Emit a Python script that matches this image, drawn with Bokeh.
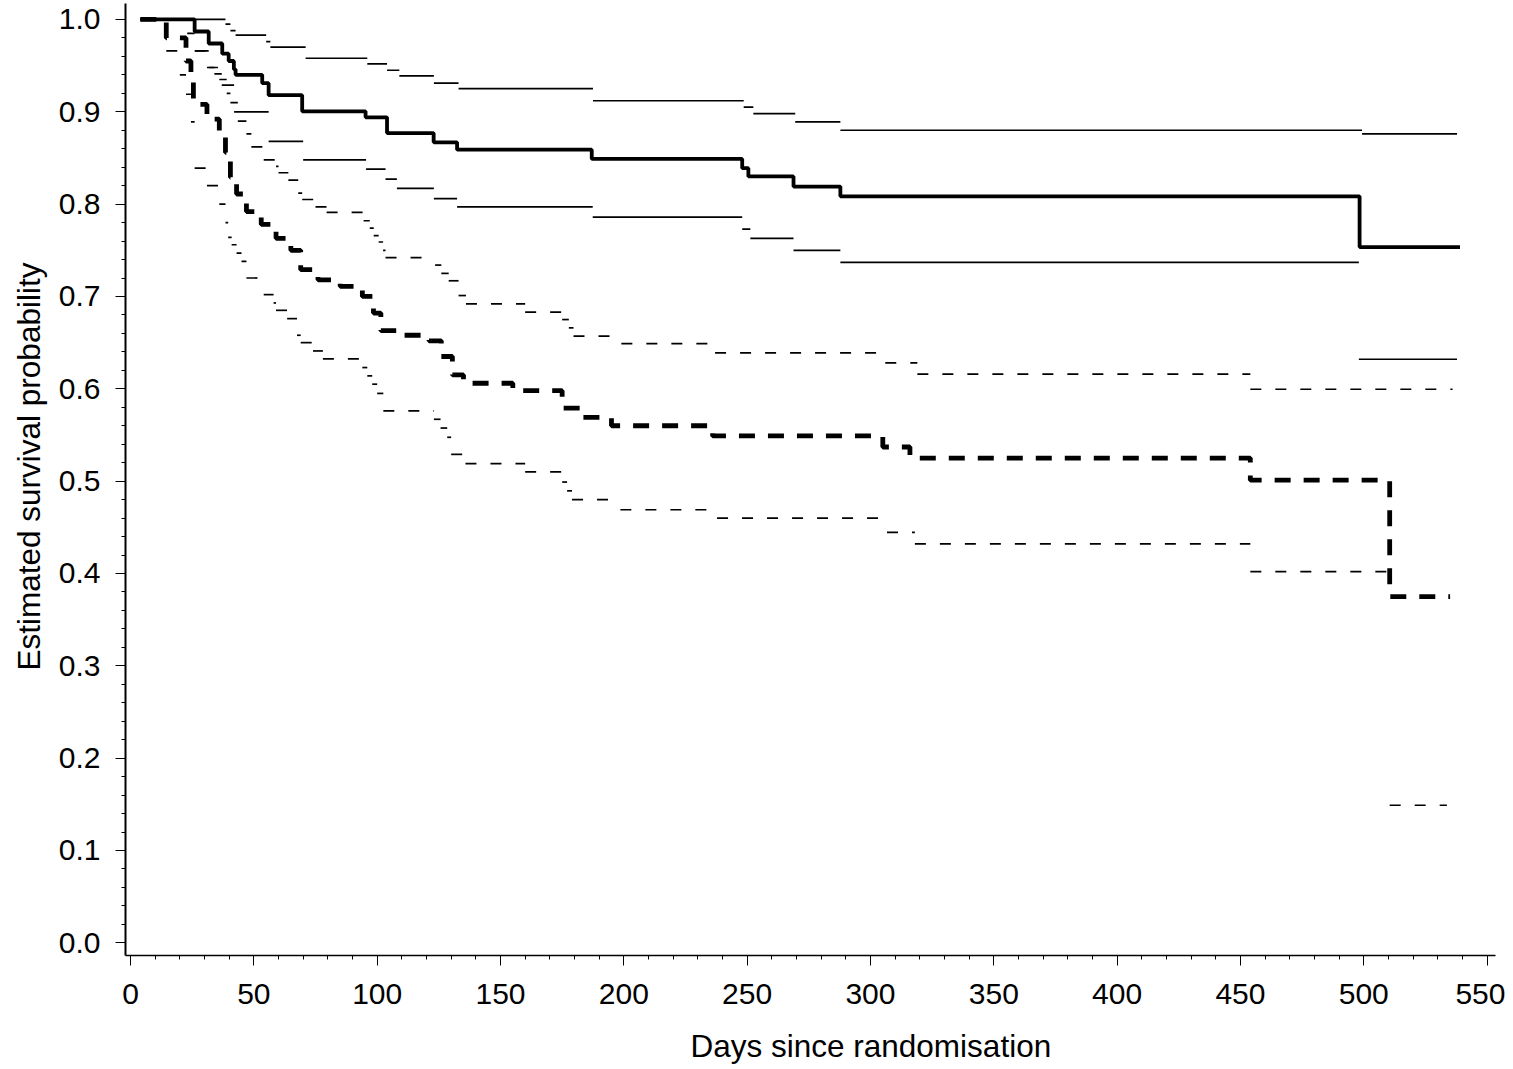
from bokeh.plotting import figure
from bokeh.models import Range1d, SingleIntervalTicker, PrintfTickFormatter, Title
from bokeh.embed import file_html
from bokeh.resources import INLINE

# ---- data (days, estimated survival) ----
# Group A (solid): Kaplan-Meier estimate and its confidence limits
a_km_t = [4, 26, 31.7, 37.2, 39.8, 41.9, 42.6, 53.4, 56, 69.6, 95.3, 104, 122.9, 132.4,
          187, 248, 250.5, 268.8, 287.8, 498.3, 539]
a_km_s = [1.0, 0.987, 0.974, 0.963, 0.955, 0.946, 0.940, 0.931, 0.918, 0.9005, 0.894, 0.877,
          0.867, 0.859, 0.849, 0.839, 0.830, 0.819, 0.8085, 0.7535, 0.7535]

a_up_t = [4, 38.5, 40.5, 42.6, 55, 56.7, 71, 96, 104, 109, 123, 133, 187.5, 248.6, 252.5,
          269.5, 287.8, 499.3, 537.8]
a_up_s = [1.0, 0.995, 0.988, 0.983, 0.976, 0.970, 0.958, 0.952, 0.945, 0.939, 0.931, 0.925,
          0.912, 0.905, 0.898, 0.889, 0.880, 0.876, 0.876]

a_lo_t = [4, 26.3, 31.7, 34, 37, 42, 56, 70, 95.5, 103.4, 108, 123, 132.4, 187.4, 248, 251.3,
          268.8, 287.8, 498, 537.8]
a_lo_s = [1.0, 0.966, 0.948, 0.941, 0.929, 0.900, 0.868, 0.848, 0.838, 0.827, 0.817, 0.806,
          0.797, 0.786, 0.773, 0.763, 0.750, 0.737, 0.632, 0.632]

# Group B (dashed): Kaplan-Meier estimate and its confidence limits
b_km_t = [4, 14.5, 22.5, 24.5, 25.5, 31, 36, 38.5, 40.5, 43, 47, 53, 59, 65, 69, 76, 85, 94,
          98.5, 101.5, 108, 121, 126, 130.5, 135, 155, 175, 183, 195, 236, 305, 316, 454,
          510.5, 535]
b_km_s = [1.0, 0.98, 0.955, 0.932, 0.908, 0.892, 0.876, 0.856, 0.829, 0.811, 0.792, 0.778,
          0.763, 0.750, 0.729, 0.718, 0.711, 0.700, 0.682, 0.663, 0.658, 0.652, 0.635, 0.615,
          0.606, 0.598, 0.579, 0.569, 0.560, 0.549, 0.537, 0.525, 0.501, 0.375, 0.375]

b_up_t = [4, 23, 26, 31, 36, 39, 40.5, 43.5, 47, 49, 54, 59, 60, 64, 68, 69.6, 75, 79.5, 94.5,
          97, 98.6, 100.6, 102.4, 103.4, 123.5, 126, 129, 133, 136, 160, 175, 177.7, 179.6,
          199, 237, 306, 319, 454, 536]
b_up_s = [1.0, 0.985, 0.966, 0.948, 0.935, 0.920, 0.910, 0.890, 0.876, 0.862, 0.848, 0.841,
          0.834, 0.826, 0.812, 0.805, 0.797, 0.791, 0.782, 0.774, 0.766, 0.759, 0.750, 0.742,
          0.734, 0.725, 0.717, 0.701, 0.692, 0.683, 0.675, 0.666, 0.657, 0.649, 0.639, 0.628,
          0.616, 0.5995, 0.5995]

b_lo_t = [4, 14.5, 20, 22.5, 24.5, 26, 31, 36, 38.5, 39.6, 41, 43, 45, 47, 54, 58, 59, 63.5,
          67.5, 69, 74, 78, 94, 96, 98, 100, 102.5, 123, 125.7, 128.4, 130, 135.8, 160, 175,
          177, 179, 198.6, 237.8, 306.7, 318, 454, 510.5, 533.7]
b_lo_s = [1.0, 0.966, 0.940, 0.919, 0.889, 0.839, 0.820, 0.800, 0.780, 0.764, 0.756, 0.747,
          0.738, 0.720, 0.702, 0.693, 0.685, 0.676, 0.658, 0.650, 0.641, 0.6325, 0.623, 0.614,
          0.605, 0.595, 0.576, 0.567, 0.5575, 0.5475, 0.529, 0.519, 0.510, 0.499, 0.4895,
          0.480, 0.469, 0.460, 0.4446, 0.432, 0.402, 0.149, 0.149]

x_tick_step = 50
y_tick_step = 0.1
x_title = "Days since randomisation"
y_title = "Estimated survival probability"

FONT = "Liberation Sans"

p = figure(frame_width=1370, frame_height=952, output_backend="svg", toolbar_location=None,
           x_range=Range1d(-2.03, 553.4), y_range=Range1d(-0.01375, 1.0173),
           min_border_left=125, min_border_right=10, min_border_top=3,
           min_border_bottom=114)
p.outline_line_color = None
p.grid.visible = False
p.background_fill_color = "white"
p.border_fill_color = "white"


def bands(t, s, dash):
    p.segment(x0=t[:-1], y0=s[:-1], x1=t[1:], y1=s[:-1], line_color="black",
              line_width=1.7, line_dash=dash)


# group A (solid)
bands(a_up_t, a_up_s, "solid")
bands(a_lo_t, a_lo_s, "solid")
p.step(a_km_t, a_km_s, mode="after", line_color="black", line_width=3.8)

# group B (dashed)
bands(b_up_t, b_up_s, "11 14")
bands(b_lo_t, b_lo_s, "11 14")
p.step(b_km_t, b_km_s, mode="after", line_color="black", line_width=4.8, line_dash="16 13")

# axes
p.xaxis.ticker = SingleIntervalTicker(interval=x_tick_step, num_minor_ticks=5)
p.yaxis.ticker = SingleIntervalTicker(interval=y_tick_step, num_minor_ticks=5)
p.yaxis.formatter = PrintfTickFormatter(format="%.1f")

for ax in (p.xaxis[0], p.yaxis[0]):
    ax.axis_line_color = "black"
    ax.major_tick_line_color = "black"
    ax.minor_tick_line_color = "black"
    ax.major_tick_in = 0
    ax.minor_tick_in = 0
    ax.major_tick_out = 10
    ax.minor_tick_out = 4
    ax.major_label_text_font = FONT
    ax.major_label_text_font_size = "30px"
    ax.major_label_text_color = "black"

p.yaxis.axis_line_width = 2
p.xaxis.axis_line_width = 1.5
p.xaxis.major_label_standoff = 18
p.yaxis.major_label_standoff = 15

# axis titles, slightly off-centre as in the reference
p.add_layout(Title(text=x_title, align="left", offset=565, text_font=FONT,
                   text_font_size="31.5px", text_font_style="normal", text_color="black",
                   standoff=38), "below")
p.add_layout(Title(text=y_title, align="left", offset=285, text_font=FONT,
                   text_font_size="31.5px", text_font_style="normal", text_color="black",
                   standoff=17), "left")

open("out.html", "w").write(file_html(p, INLINE))
